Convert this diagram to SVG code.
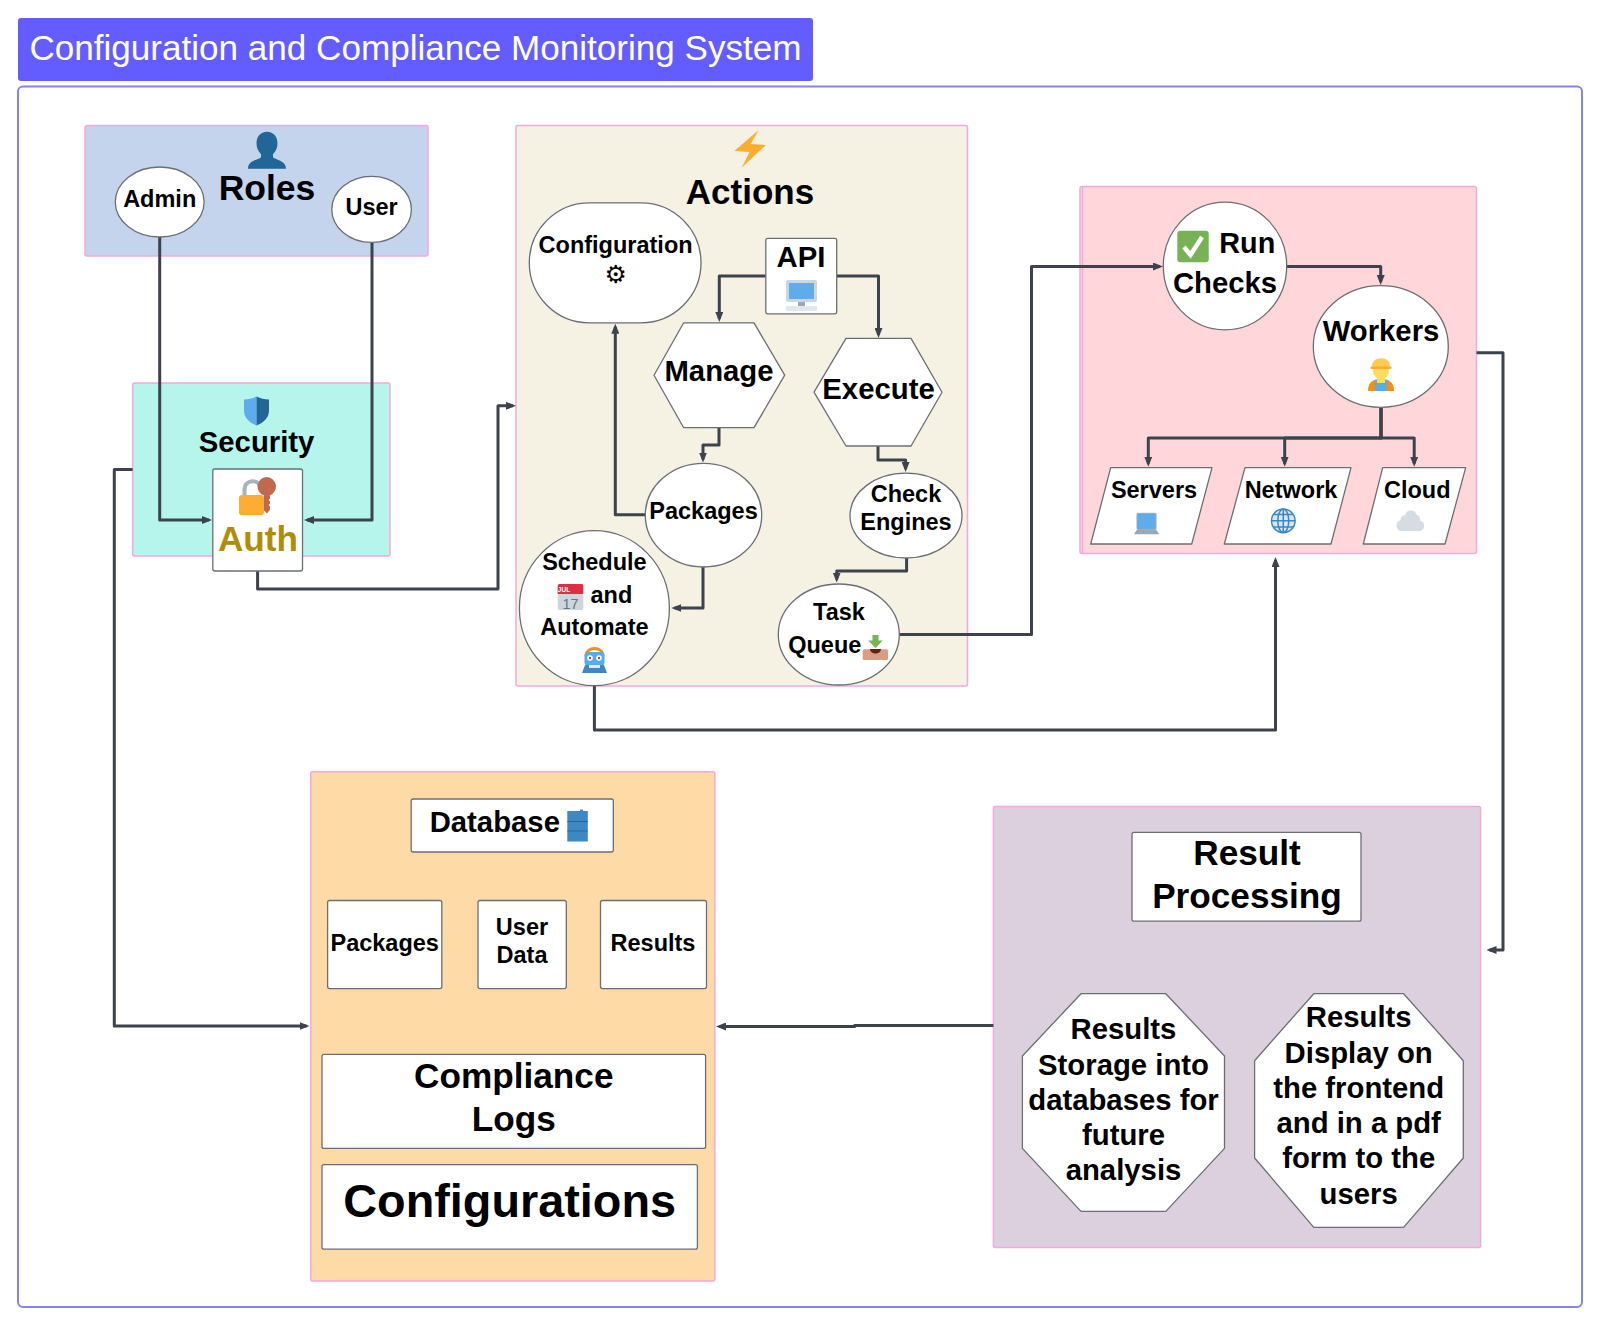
<svg xmlns="http://www.w3.org/2000/svg" width="1600" height="1325" viewBox="0 0 1600 1325">
<style>
text{font-family:"Liberation Sans",Arial,sans-serif;fill:#000;font-weight:700;text-anchor:middle}
.s23{font-size:23.500px}.s29{font-size:29.300px}.s293{font-size:29.300px}.s35{font-size:35.200px}
.grp{stroke:#f2a9dd;stroke-width:1.5}
.n{fill:#fff;stroke:#6b6f75;stroke-width:1.3;stroke-linejoin:round}
.c{fill:none;stroke:#3c434d;stroke-width:3;stroke-linejoin:round;marker-end:url(#a)}
</style>
<defs>
<marker id="a" markerUnits="userSpaceOnUse" markerWidth="10" markerHeight="8" refX="7" refY="4" orient="auto"><path d="M0 0L10 4L0 8Z" fill="#3c434d"/></marker>
</defs>
<rect width="1600" height="1325" fill="#fff"/>
<g id="title">
<rect x="18" y="18" width="795" height="63" rx="3" fill="#635dff"/>
<text x="415.500" y="60" style="fill:#fff;font-weight:400;font-size:35.100px">Configuration and Compliance Monitoring System</text>
</g>
<rect id="frame" x="18" y="86.500" width="1564" height="1220.500" rx="5" fill="#fff" stroke="#8583ee" stroke-width="2"/>
<g id="containers">
<rect id="roles-group" class="grp" x="85" y="125.500" width="343" height="130.500" rx="2" fill="#c3d4ec"/>
<rect id="security-group" class="grp" x="132.600" y="383" width="257.400" height="173" rx="2" fill="#b5f5ec"/>
<rect id="actions-group" class="grp" x="516" y="125.500" width="451.500" height="560.500" rx="2" fill="#f5f2e3"/>
<g id="checks-group"><rect class="grp" x="1080" y="186.600" width="396.500" height="367" rx="2" fill="#ffd6d9"/><path class="grp" d="M1082.500 187V553" fill="none"/></g>
<rect id="database-group" class="grp" x="310.700" y="771.700" width="404.100" height="509.300" rx="2" fill="#fedba6"/>
<rect id="result-group" class="grp" x="993.400" y="806.500" width="487.200" height="441.100" rx="2" fill="#ddd0de"/>
</g>
<g id="connectors">
<path class="c" d="M159.700 237V520H209"/>
<path class="c" d="M372 242V520H307"/>
<path class="c" d="M257.600 571V589H498V405.800H513"/>
<path class="c" d="M132.600 469.600H114.300V1026H306.500"/>
<path class="c" d="M765.800 276H719.300V319"/>
<path class="c" d="M836.700 276H878.500V335"/>
<path class="c" d="M719 428V445H703V459.500"/>
<path class="c" d="M645 514.700H615.300V326.700"/>
<path class="c" d="M703 567V608H674.400"/>
<path class="c" d="M594.400 686V730H1275.500V560"/>
<path class="c" d="M878 446V460H905.600V469"/>
<path class="c" d="M906.600 558V571H836.700V579.600"/>
<path class="c" d="M899.300 634.500H1031.500V266.500H1160"/>
<path class="c" d="M1286.700 266.500H1380.700V282"/>
<path class="c" d="M1381 407V438H1148.300V463.700"/>
<path class="c" d="M1381 407V438H1284.700V463.700"/>
<path class="c" d="M1381 407V438H1414.200V463.700"/>
<path class="c" d="M1476.500 352.700H1503V950H1489.500"/>
<path class="c" d="M993.400 1025.500H854.600V1026.500H719"/>
</g>
<g id="roles-label">
<path fill="#226699" d="M267 131.700c6.500 0 10.500 5 10.500 11.500 0 4-1.500 8-4.500 11v3c3 3 13 3 13 11.500h-38c0-8.500 10-8.500 13-11.500v-3c-3-3-4.500-7-4.500-11 0-6.500 4-11.500 10.500-11.500z"/>
<text x="267" y="199.500" style="font-size:35.500px">Roles</text>
</g>
<g id="admin"><ellipse class="n" cx="159.700" cy="202" rx="44.400" ry="35"/><text class="s23" x="159.700" y="207">Admin</text></g>
<g id="user"><ellipse class="n" cx="371.600" cy="209.400" rx="39.800" ry="33"/><text class="s23" x="371.600" y="215.300">User</text></g>
<g id="security-label">
<path fill="#5dadec" d="M256.500 396.500c-4 2-8 3-12.500 3v11c0 7 5 12 12.500 15z"/>
<path fill="#226699" d="M256.500 396.500c4 2 8 3 12.500 3v11c0 7-5 12-12.500 15z"/>
<text class="s29" x="256.600" y="451.800">Security</text>
</g>
<g id="auth">
<rect class="n" x="212.800" y="469" width="89.700" height="102" rx="2"/>
<path d="M244.500 496v-6c0-11.500 16-11.500 16-1" fill="none" stroke="#a5b4be" stroke-width="4"/>
<rect x="239" y="495" width="25" height="20.300" rx="3" fill="#ffac33"/>
<path fill="#c1694f" d="M266.500 477a9.500 9.500 0 0 1 3.500 18.300v3.200l-1.500 1.500 1.500 1.500v2l-1.500 1.500 1.500 1.500v3l-3 4-3-3v-15a9.500 9.500 0 0 1 2.500-18.500z"/>
<text x="258" y="551" style="font-size:35.200px;fill:#b08d07">Auth</text>
</g>
<g id="actions-label">
<polygon fill="#ffac33" points="758.700,130 734.300,151 749.500,152 741.700,167.700 766,145 750.700,144"/>
<text x="750" y="204" style="font-size:35px">Actions</text>
</g>
<g id="configuration"><rect class="n" x="529.300" y="202.800" width="171.700" height="120" rx="60" ry="60"/><text class="s23" x="615.600" y="252.700">Configuration</text><text x="615.600" y="282.500" style='font-family:"DejaVu Sans",sans-serif;font-size:25px;font-weight:400'>⚙</text></g>
<g id="api">
<rect class="n" x="765.800" y="238.400" width="70.900" height="75.400" rx="2"/>
<text class="s29" x="801" y="266.500">API</text>
<rect x="786" y="280" width="31" height="22" rx="2" fill="#ccd6dd"/><rect x="789" y="283" width="25" height="16" fill="#5dadec"/><rect x="798" y="302" width="7" height="4" fill="#99aab5"/><rect x="786" y="306" width="31" height="5" rx="1" fill="#e1e8ed"/>
</g>
<g id="manage"><polygon class="n" points="654,375.200 683.700,322.800 754,322.800 784.700,375.200 754,427.700 683.700,427.700"/><text class="s29" x="719" y="380.800">Manage</text></g>
<g id="execute"><polygon class="n" points="814,392.200 846,338.400 911,338.400 942,392.200 911,446 846,446"/><text class="s29" x="878.500" y="398.700">Execute</text></g>
<g id="packages"><ellipse class="n" cx="703.500" cy="515.200" rx="58.200" ry="51.800"/><text class="s23" x="703.500" y="519">Packages</text></g>
<g id="schedule">
<ellipse class="n" cx="594.400" cy="608.200" rx="75" ry="77.500"/>
<text class="s23" x="594.400" y="569.500">Schedule</text>
<rect x="557.700" y="584" width="25.600" height="26" rx="2" fill="#ccd6dd"/><path fill="#dd2e44" d="M559.700 584h21.600a2 2 0 0 1 2 2v8h-25.600v-8a2 2 0 0 1 2-2z"/>
<text x="564" y="592" style="font-size:6.500px;fill:#fff">JUL</text>
<text x="570.500" y="608.500" style="font-size:14.500px;fill:#66757f;font-weight:400">17</text>
<text class="s23" x="590.500" y="602.500" style="text-anchor:start">and</text>
<text class="s23" x="594.400" y="634.800">Automate</text>
<path d="M586 656c0-10 17-10 17 0" fill="none" stroke="#f4900c" stroke-width="3"/>
<rect x="584.500" y="652" width="20" height="14" rx="4" fill="#55acee"/>
<circle cx="590" cy="658" r="2.800" fill="#fff"/><circle cx="599" cy="658" r="2.800" fill="#fff"/><circle cx="590" cy="658" r="1.200" fill="#dd2e44"/><circle cx="599" cy="658" r="1.200" fill="#dd2e44"/>
<path fill="#3b88c3" d="M585 665h19l3 8h-25z"/><rect x="589" y="665" width="11" height="3" fill="#e1e8ed"/>
</g>
<g id="check-engines"><ellipse class="n" cx="906" cy="515.600" rx="56" ry="42.400"/><text class="s23" x="906" y="501.800">Check</text><text class="s23" x="906" y="530">Engines</text></g>
<g id="task-queue">
<ellipse class="n" cx="838.800" cy="634.500" rx="60.500" ry="50.500"/>
<text class="s23" x="839" y="620">Task</text>
<text class="s23" x="788.200" y="652.800" style="text-anchor:start">Queue</text>
<rect x="862.700" y="649.300" width="25.300" height="10.700" rx="1.500" fill="#d99e82"/>
<path fill="#662113" d="M870 649h11c0 6-11 6-11 0z"/>
<path fill="#77b255" d="M872.500 635h6v5.500h4.200l-7.200 7.500-7.200-7.500h4.200z"/>
</g>
<g id="run-checks">
<ellipse class="n" cx="1225" cy="266" rx="61.700" ry="63.800"/>
<rect x="1177.300" y="230.700" width="31.400" height="31.600" rx="3" fill="#77b255"/>
<path d="M1184 247l6.500 8 11.500-18" fill="none" stroke="#fff" stroke-width="4.500"/>
<text x="1219.300" y="252.500" style="font-size:28.800px;text-anchor:start">Run</text>
<text class="s29" x="1225" y="292.500">Checks</text>
</g>
<g id="workers">
<ellipse class="n" cx="1380.800" cy="346.500" rx="67.500" ry="60.800"/>
<text class="s29" x="1381" y="341">Workers</text>
<path fill="#f4900c" d="M1368 391c0-9 5-12 13-12s13 3 13 12z"/><path fill="#55acee" d="M1375 380h12v11h-12z"/><path fill="#ffdc5d" d="M1377 378h8v5h-8z"/>
<ellipse cx="1381" cy="371" rx="8" ry="8.500" fill="#ffdc5d"/>
<path fill="#ffcc4d" d="M1372 368c-2-13 20-13 18 0z"/><rect x="1370.500" y="366.500" width="21" height="2.500" rx="1" fill="#ffac33"/>
</g>
<g id="servers">
<polygon class="n" points="1110.700,467.700 1212,467.700 1191.700,544 1090.700,544"/>
<text class="s23" x="1154" y="497.700">Servers</text>
<rect x="1137" y="513.300" width="19" height="16" rx="1" fill="#5dadec" stroke="#99aab5"/><path fill="#99aab5" d="M1137 529.500h19l3.300 4.800h-25.300z"/>
</g>
<g id="network">
<polygon class="n" points="1245,467.700 1351,467.700 1331,544 1224.300,544"/>
<text class="s23" x="1291" y="497.700">Network</text>
<g fill="none" stroke="#3b88c3" stroke-width="1.500"><circle cx="1283.300" cy="520.800" r="11.800" fill="#d5e8f7"/><ellipse cx="1283.300" cy="520.800" rx="5.500" ry="11.800"/><path d="M1283.300 509v23.600M1271.500 520.800h23.600M1273.500 514.500h19.600M1273.500 527h19.600"/></g>
</g>
<g id="cloud">
<polygon class="n" points="1382.700,467.700 1465.700,467.700 1445,544 1363.300,544"/>
<text class="s23" x="1417.300" y="497.700">Cloud</text>
<path fill="#d5dde3" d="M1402 531a5.500 5.500 0 0 1-1.500-10.800 5 5 0 0 1 4.500-5.200 6 6 0 0 1 11.500-.5 5.500 5.500 0 0 1 3.500 6 5.500 5.500 0 0 1 .5 10.500z"/>
</g>
<g id="database-title">
<rect class="n" x="411.200" y="799" width="202.100" height="53" rx="2"/>
<text class="s29" x="494.800" y="831.500">Database</text>
<rect x="567.300" y="811" width="20.500" height="30.500" fill="#3b88c3"/><rect x="580" y="809.500" width="3" height="2" fill="#3b88c3"/><path d="M567.300 821.500h20.500M567.300 831h20.500" stroke="#2a6797" stroke-width="1.200"/>
</g>
<g id="db-packages"><rect class="n" x="327.600" y="900.500" width="114.200" height="88.100" rx="2"/><text class="s23" x="384.700" y="950.800">Packages</text></g>
<g id="db-user-data"><rect class="n" x="478" y="900.500" width="88.300" height="88.100" rx="2"/><text class="s23" x="522" y="935">User</text><text class="s23" x="522" y="963">Data</text></g>
<g id="db-results"><rect class="n" x="600.500" y="900.500" width="106" height="88.100" rx="2"/><text class="s23" x="653" y="950.800">Results</text></g>
<g id="compliance-logs"><rect class="n" x="322" y="1054.300" width="383.600" height="94.100" rx="2"/><text class="s35" x="513.800" y="1088.400">Compliance</text><text class="s35" x="513.800" y="1130.500">Logs</text></g>
<g id="configurations"><rect class="n" x="322" y="1164.700" width="375.400" height="84.500" rx="2"/><text x="509.700" y="1217" style="font-size:46.800px">Configurations</text></g>
<g id="result-processing"><rect class="n" x="1132" y="832.300" width="229" height="88.900" rx="2"/><text class="s35" x="1247" y="865">Result</text><text class="s35" x="1247" y="908">Processing</text></g>
<g id="results-storage">
<polygon class="n" points="1081,993.700 1165.800,993.700 1224.500,1056 1224.500,1148.400 1165.800,1211.400 1081,1211.400 1022.400,1148.400 1022.400,1056"/>
<text class="s293" x="1123.500" y="1039.400">Results</text><text class="s293" x="1123.500" y="1074.700">Storage into</text><text class="s293" x="1123.500" y="1110">databases for</text><text class="s293" x="1123.500" y="1145">future</text><text class="s293" x="1123.500" y="1180">analysis</text>
</g>
<g id="results-display">
<polygon class="n" points="1313.800,993.700 1403.600,993.700 1463.300,1060.700 1463.300,1158 1403.600,1227.300 1313.800,1227.300 1254.600,1158 1254.600,1060.700"/>
<text class="s293" x="1358.700" y="1027.300">Results</text><text class="s293" x="1358.700" y="1062.500">Display on</text><text class="s293" x="1358.700" y="1097.800">the frontend</text><text class="s293" x="1358.700" y="1133">and in a pdf</text><text class="s293" x="1358.700" y="1168">form to the</text><text class="s293" x="1358.700" y="1203.500">users</text>
</g>
</svg>
